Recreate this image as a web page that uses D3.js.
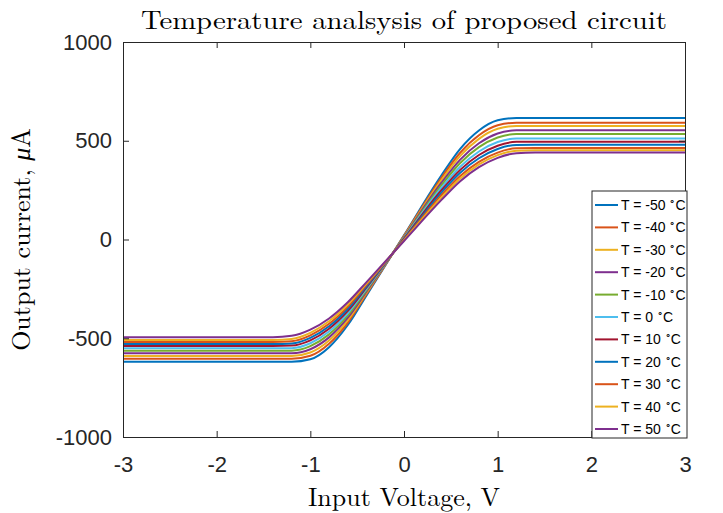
<!DOCTYPE html>
<html>
<head>
<meta charset="utf-8">
<script src="https://cdn.jsdelivr.net/npm/d3@7"></script>
<style>
  html, body { margin: 0; padding: 0; background: #fff; }
  svg { display: block; }
</style>
</head>
<body>
<svg id="chart" width="723" height="513"></svg>
<script>
// ---- data ----
const voltages = [-3, -1.4, -1.2, -1.0, -0.8, -0.6, -0.4, 0, 0.4, 0.6, 0.8, 1.0, 1.2, 1.4, 3];
const temperatures = [-50, -40, -30, -20, -10, 0, 10, 20, 30, 40, 50];
const currentTm50 = [-619, -619, -619, -606.5, -545.2, -432.8, -282.8, 21.2, 325.2, 459.1, 551.9, 603.4, 615, 615, 615];
const currentTm40 = [-604, -604, -604, -588.9, -528.0, -420.5, -276.1, 18.3, 312.7, 439.2, 527.6, 578.1, 591, 591, 591];
const currentTm30 = [-590, -590, -590, -572.2, -511.7, -408.2, -269.4, 15.4, 300.2, 423.1, 509.8, 560.4, 575, 575, 575];
const currentTm20 = [-576, -576, -576, -555.6, -495.6, -396.0, -262.6, 12.6, 287.5, 404.3, 487.5, 537.0, 553, 553, 553];
const currentTm10 = [-563, -563, -562.7, -540.0, -480.4, -384.2, -255.9, 9.7, 274.9, 387.1, 467.6, 516.6, 534, 534, 534];
const currentT0   = [-551, -551, -550.1, -525.3, -466.1, -372.7, -249.2, 6.8, 262.0, 368.5, 445.7, 493.4, 511.8, 512, 512];
const currentT10  = [-539, -539, -537.3, -510.7, -452.0, -361.4, -242.5, 3.9, 249.6, 352.5, 427.7, 475.0, 494.4, 495, 495];
const currentT20  = [-529, -529, -526.1, -497.9, -439.4, -350.7, -235.8, 1.0, 237.4, 337.6, 411.3, 458.4, 479.0, 480, 480];
const currentT30  = [-519, -519, -514.8, -485.1, -426.8, -339.9, -229.0, -1.8, 225.0, 321.8, 393.5, 440.1, 461.5, 463, 463];
const currentT40  = [-509, -509, -503.4, -472.4, -414.3, -329.2, -222.3, -4.7, 212.8, 308.7, 380.2, 427.2, 449.8, 452, 452];
const currentT50  = [-495, -495, -487.9, -456.4, -399.7, -317.8, -215.6, -7.6, 200.4, 295.0, 366.0, 413.4, 437.0, 440, 440];
const seriesValues = [currentTm50, currentTm40, currentTm30, currentTm20, currentTm10, currentT0,
                      currentT10, currentT20, currentT30, currentT40, currentT50];
const xTicks = [-3, -2, -1, 0, 1, 2, 3];
const yTicks = [-1000, -500, 0, 500, 1000];
const titleText = "Temperature analsysis of proposed circuit";
const xLabelText = "Input Voltage, V";
const yLabelMain = "Output current, ";
const yLabelMu = "\u03BC";
const yLabelUnit = "A";

// ---- styling / layout ----
const colors = ["#0072BD", "#D95319", "#EDB120", "#7E2F8E", "#77AC30", "#4DBEEE", "#A2142F",
                "#0072BD", "#D95319", "#EDB120", "#7E2F8E"];
const plotL = 123, plotR = 685, plotT = 42, plotB = 437;
const axisColor = "#262626";
const tickFont = "'Liberation Sans', Arial, Helvetica, sans-serif";
const serifFont = "'Latin Modern Roman', 'CMU Serif', 'Liberation Serif', 'DejaVu Serif', serif";

const svg = d3.select("#chart");
const x = d3.scaleLinear().domain([-3, 3]).range([plotL, plotR]);
const y = d3.scaleLinear().domain([-1000, 1000]).range([plotB, plotT]);

svg.append("defs").append("clipPath").attr("id", "clip")
  .append("rect").attr("x", plotL).attr("y", plotT).attr("width", plotR - plotL).attr("height", plotB - plotT);

// lines
const line = d3.line()
  .x((d, i) => x(voltages[i]))
  .y(d => y(d))
  .curve(d3.curveMonotoneX);

svg.append("g").attr("clip-path", "url(#clip)")
  .selectAll("path").data(seriesValues).join("path")
  .attr("d", d => line(d))
  .attr("fill", "none")
  .attr("stroke", (d, i) => colors[i])
  .attr("stroke-width", 2)
  .attr("stroke-linejoin", "round");

// axes
const tickLen = 6;
const fmt = d => String(d);
const gB = svg.append("g").attr("transform", `translate(0,${plotB})`)
  .call(d3.axisBottom(x).tickValues(xTicks).tickSizeInner(-tickLen).tickSizeOuter(0).tickPadding(19).tickFormat(fmt));
const gT = svg.append("g").attr("transform", `translate(0,${plotT})`)
  .call(d3.axisTop(x).tickValues(xTicks).tickSizeInner(-tickLen).tickSizeOuter(0).tickFormat(""));
const gL = svg.append("g").attr("transform", `translate(${plotL},0)`)
  .call(d3.axisLeft(y).tickValues(yTicks).tickSizeInner(-tickLen).tickSizeOuter(0).tickPadding(11).tickFormat(fmt));
const gR = svg.append("g").attr("transform", `translate(${plotR},0)`)
  .call(d3.axisRight(y).tickValues(yTicks).tickSizeInner(-tickLen).tickSizeOuter(0).tickFormat(""));

[gB, gT, gL, gR].forEach(g => {
  g.select(".domain").attr("stroke", axisColor).attr("stroke-width", 1);
  g.selectAll(".tick line").attr("stroke", axisColor).attr("stroke-width", 1);
  g.selectAll(".tick text").attr("fill", "#262626").style("font-family", tickFont).style("font-size", "22px");
});

// title & labels
svg.append("text").attr("x", (plotL + plotR) / 2).attr("y", 29)
  .attr("text-anchor", "middle")
  .attr("textLength", 526).attr("lengthAdjust", "spacingAndGlyphs")
  .style("font-family", serifFont).style("font-size", "26px").attr("fill", "#000")
  .text(titleText);

svg.append("text").attr("x", (plotL + plotR) / 2).attr("y", 506)
  .attr("text-anchor", "middle")
  .style("font-family", serifFont).style("font-size", "26px").attr("fill", "#000")
  .text(xLabelText);

const yl = svg.append("text").attr("transform", `translate(30,${(plotT + plotB) / 2}) rotate(-90)`)
  .attr("text-anchor", "middle")
  .style("font-family", serifFont).style("font-size", "26px").attr("fill", "#000");
yl.append("tspan").text(yLabelMain);
yl.append("tspan").style("font-style", "italic").text(yLabelMu);
yl.append("tspan").text(yLabelUnit);

// legend
const lgX = 592, lgY = 191, lgW = 95, lgH = 247, rowH = 22.4, firstRow = 205;
const lg = svg.append("g");
lg.append("rect").attr("x", lgX).attr("y", lgY).attr("width", lgW).attr("height", lgH)
  .attr("fill", "#fff").attr("stroke", axisColor).attr("stroke-width", 1);
const rows = lg.selectAll("g.row").data(temperatures).join("g").attr("class", "row")
  .attr("transform", (d, i) => `translate(0,${firstRow + i * rowH})`);
rows.append("line").attr("x1", 595).attr("x2", 618).attr("y1", 0).attr("y2", 0)
  .attr("stroke", (d, i) => colors[i]).attr("stroke-width", 2);
const lt = rows.append("text").attr("x", 621).attr("y", 5)
  .style("font-family", tickFont).style("font-size", "14px").attr("fill", "#000");
lt.append("tspan").text(d => `T = ${d} `);
lt.append("tspan").attr("dy", -6).style("font-size", "10px").text("\u2218");
lt.append("tspan").attr("dy", 6).text("C");
</script>
</body>
</html>
